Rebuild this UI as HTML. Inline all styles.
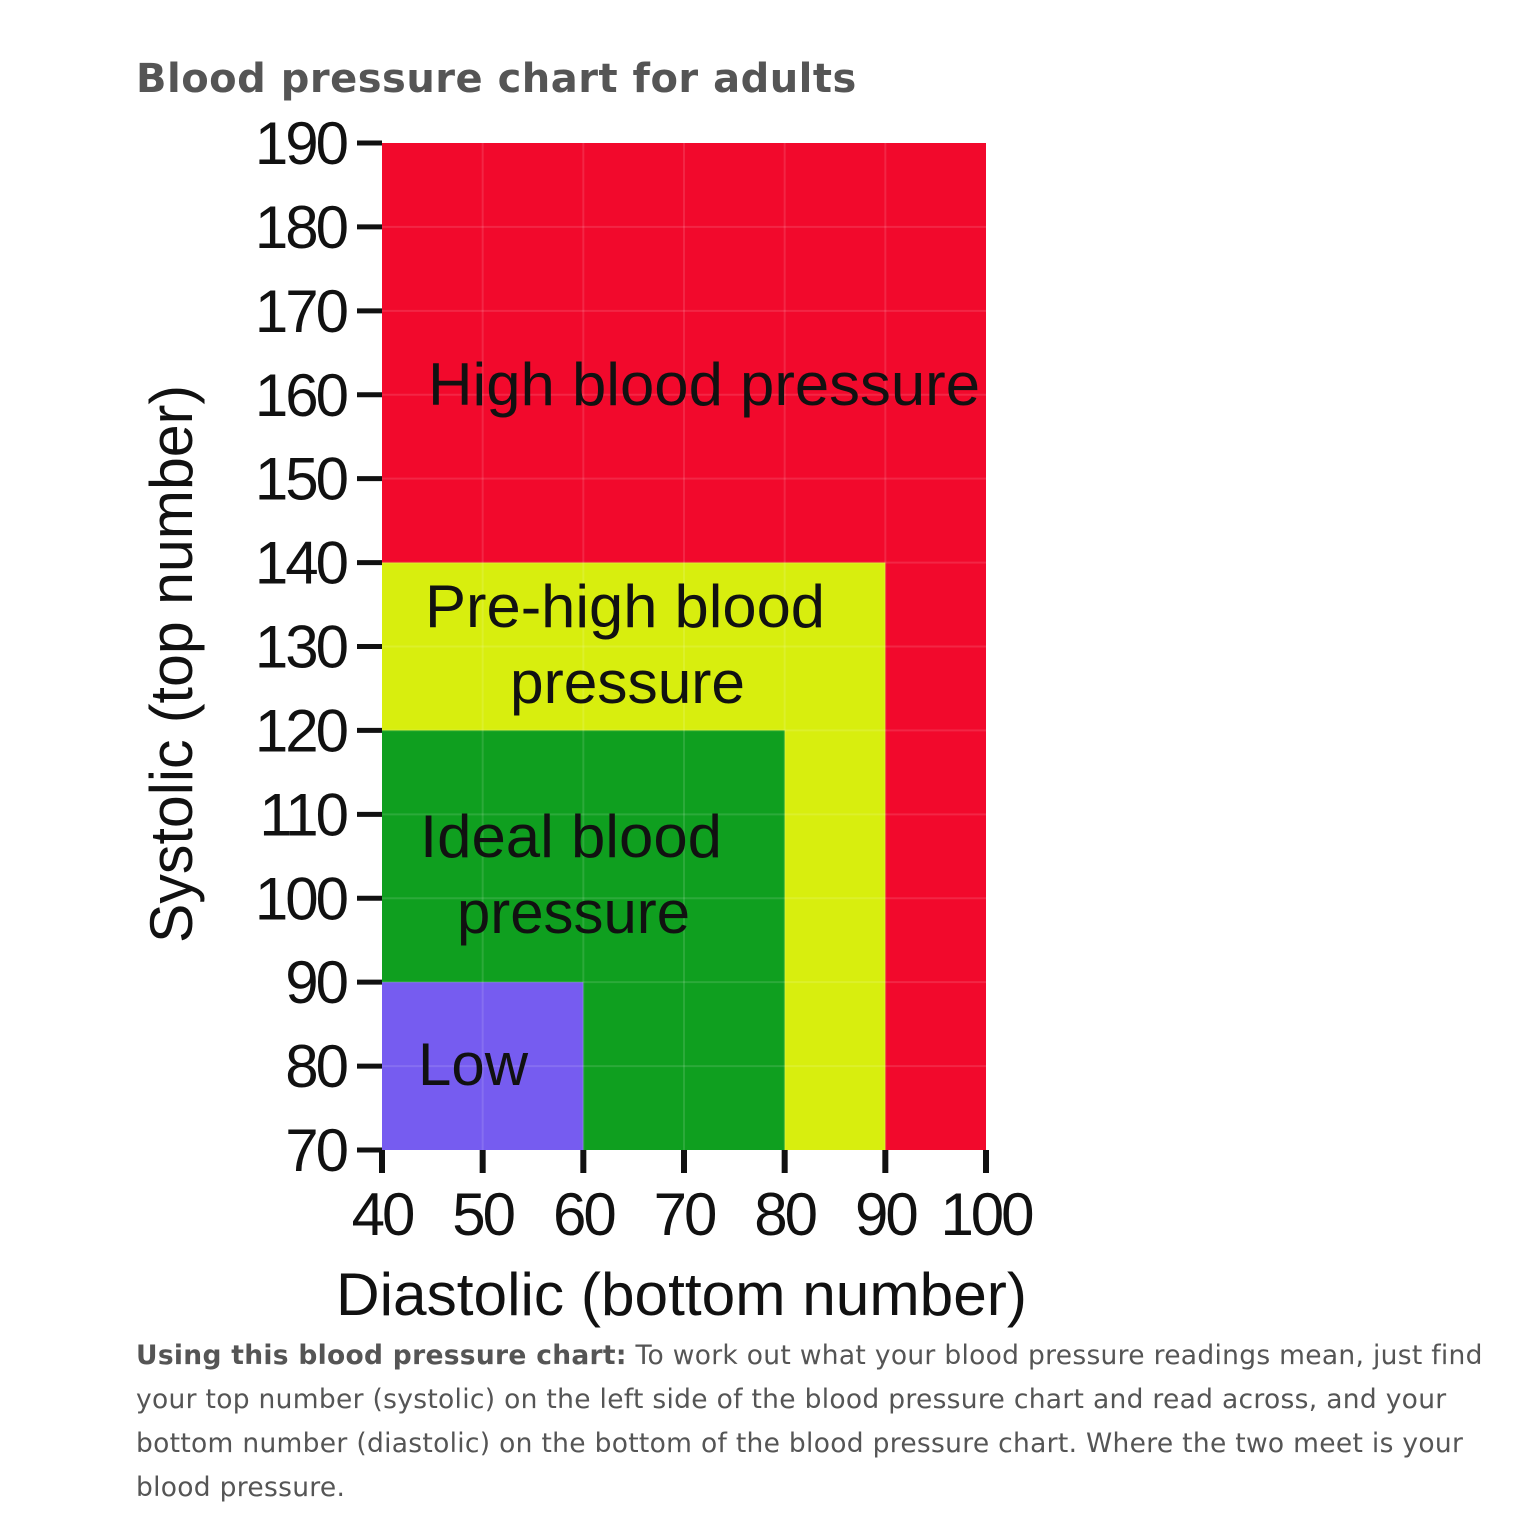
<!DOCTYPE html>
<html><head><meta charset="utf-8"><style>
body{margin:0;background:#fff;width:1535px;height:1539px;overflow:hidden;position:relative;font-family:"DejaVu Sans","Liberation Sans",sans-serif;}
#title{position:absolute;left:136px;top:56px;font-size:40px;font-weight:bold;color:#555;margin:0;letter-spacing:0.5px;}
#cap{position:absolute;left:136px;top:1334px;width:1380px;font-size:26.5px;line-height:44px;color:#555;letter-spacing:0.3px;margin:0;}
svg{position:absolute;left:0;top:0;}
</style></head><body>
<h1 id="title">Blood pressure chart for adults</h1>
<svg id="chart" width="1535" height="1330"></svg>
<p id="cap"><b>Using this blood pressure chart:</b> To work out what your blood pressure readings mean, just find your top number (systolic) on the left side of the blood pressure chart and read across, and your bottom number (diastolic) on the bottom of the blood pressure chart. Where the two meet is your blood pressure.</p>
<script>
const xTicks=[40,50,60,70,80,90,100];
const yTicks=[70,80,90,100,110,120,130,140,150,160,170,180,190];
const zoneNames=["high","prehigh","ideal","low"];
const zoneXMax=[100,90,80,60];
const zoneYMax=[190,140,120,90];
const zoneColors=["#f2092c","#d8ee0e","#0f9f1f","#765cf0"];
const X=v=>382+(v-40)*(986-382)/60;
const Y=v=>1150-(v-70)*(1150-143)/120;
const svg=document.getElementById('chart');
const NS="http://www.w3.org/2000/svg";
function mk(t,a){const e=document.createElementNS(NS,t);for(const k in a)e.setAttribute(k,a[k]);svg.appendChild(e);return e;}
zoneNames.forEach((n,i)=>{
 const r=mk('rect',{x:X(40),y:Y(zoneYMax[i]),width:X(zoneXMax[i])-X(40),height:Y(70)-Y(zoneYMax[i]),fill:zoneColors[i]});
 
 
});
xTicks.forEach(v=>{if(v>40&&v<100){const l=mk('line',{x1:X(v),x2:X(v),y1:Y(190),y2:Y(70),stroke:'rgba(255,255,255,0.12)','stroke-width':2});
 
 }});
yTicks.forEach(v=>{if(v>70&&v<190){const l=mk('line',{x1:X(40),x2:X(100),y1:Y(v),y2:Y(v),stroke:'rgba(255,255,255,0.12)','stroke-width':2});
 
 }});
yTicks.forEach(v=>{
 const t=mk('line',{x1:357,x2:382,y1:Y(v),y2:Y(v),stroke:'#111','stroke-width':5});
 
 
 const s=mk('text',{x:346,y:Y(v)+21,'text-anchor':'end','font-family':'Liberation Sans, sans-serif','font-size':60,fill:'#111','letter-spacing':-3});
 s.textContent=v;
 
 
});
xTicks.forEach(v=>{
 const t=mk('line',{x1:X(v),x2:X(v),y1:1150,y2:1173,stroke:'#111','stroke-width':6});
 
 
 const s=mk('text',{x:X(v),y:1235,'text-anchor':'middle','font-family':'Liberation Sans, sans-serif','font-size':60,fill:'#111','letter-spacing':-3});
 s.textContent=v;
 
 
});
const labels=[["High blood pressure",428,405,552,"label-high"],["Pre-high blood",425,627,400,"label-prehigh-1"],["pressure",510,703,235,"label-prehigh-2"],["Ideal blood",420,857,302,"label-ideal-1"],["pressure",457,933,233,"label-ideal-2"],["Low",418,1085,110,"label-low"],["Diastolic (bottom number)",336,1315,691,"x-axis-title"]];
labels.forEach(l=>{
 const s=mk('text',{x:l[1],y:l[2],textLength:l[3],lengthAdjust:'spacingAndGlyphs','font-family':'Liberation Sans, sans-serif','font-size':60,fill:'#111'});
 s.textContent=l[0];
 
 
});
const yt=mk('text',{x:0,y:0,transform:'translate(192,943) rotate(-90)',textLength:558,lengthAdjust:'spacingAndGlyphs','font-family':'Liberation Sans, sans-serif','font-size':60,fill:'#111'});
yt.textContent='Systolic (top number)';


</script>
</body></html>
